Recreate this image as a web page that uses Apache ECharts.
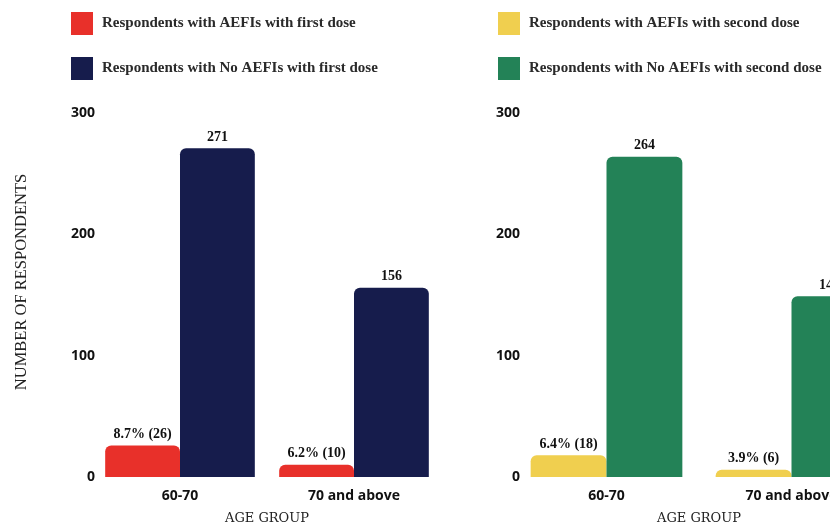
<!DOCTYPE html>
<html>
<head>
<meta charset="utf-8">
<script src="https://cdn.jsdelivr.net/npm/echarts@6/dist/echarts.min.js"></script>
<style>
  html, body { margin: 0; padding: 0; background: #ffffff; }
  #chart { width: 830px; height: 523px; }
</style>
</head>
<body>
<div id="chart"></div>
<script>
// Age groups shown on both panels
const ageGroups = ['60-70', '70 and above'];

// First dose
const firstAefi = [26, 10];
const firstAefiPct = ['8.7%', '6.2%'];
const firstNoAefi = [271, 156];

// Second dose
const secondAefi = [18, 6];
const secondAefiPct = ['6.4%', '3.9%'];
const secondNoAefi = [264, 149];

// Shared value-axis ticks
const yMin = 0;
const yMax = 300;
const yStep = 100;

const serif = '"DejaVu Serif", "Liberation Serif", serif';
const times = '"Liberation Serif", "Times New Roman", serif';
const sans = '"Open Sans", "Noto Sans", sans-serif';

const valueLabel = {
  show: true,
  position: 'top',
  distance: 4,
  color: '#111111',
  fontFamily: times,
  fontWeight: 'bold',
  fontSize: 14
};

function pctLabel(pcts) {
  return Object.assign({}, valueLabel, {
    formatter: p => pcts[p.dataIndex] + ' (' + p.value + ')'
  });
}

function xAxisFor(gridIndex) {
  return {
    type: 'category',
    gridIndex: gridIndex,
    data: ageGroups,
    name: 'AGE GROUP',
    nameLocation: 'middle',
    nameGap: 35,
    nameTextStyle: { fontFamily: serif, fontSize: 13, color: '#222222' },
    axisLine: { show: false },
    axisTick: { show: false },
    axisLabel: { margin: 12, fontFamily: sans, fontWeight: 'bold', fontSize: 14, color: '#111111' }
  };
}

function yAxisFor(gridIndex, margin) {
  return {
    type: 'value',
    gridIndex: gridIndex,
    min: yMin,
    max: yMax,
    interval: yStep,
    axisLine: { show: false },
    axisTick: { show: false },
    splitLine: { show: false },
    axisLabel: { margin: margin, fontFamily: sans, fontWeight: 'bold', fontSize: 14, color: '#111111' }
  };
}

const legendText = { fontFamily: times, fontWeight: 'bold', fontSize: 15, color: '#2a2a2a', padding: [5, 0, 0, 4] };

const option = {
  animation: false,
  backgroundColor: '#ffffff',
  legend: [
    {
      data: ['Respondents with AEFIs with first dose', 'Respondents with No AEFIs with first dose'],
      orient: 'vertical',
      left: 71, top: 12, padding: 0,
      itemWidth: 22, itemHeight: 23, itemGap: 22,
      icon: 'rect',
      textStyle: legendText
    },
    {
      data: ['Respondents with AEFIs with second dose', 'Respondents with No AEFIs with second dose'],
      orient: 'vertical',
      left: 498, top: 12, padding: 0,
      itemWidth: 22, itemHeight: 23, itemGap: 22,
      icon: 'rect',
      textStyle: legendText
    }
  ],
  grid: [
    { left: 93, top: 113, width: 348, height: 364, outerBoundsMode: 'none', containLabel: false },
    { left: 514, top: 113, width: 370, height: 364, outerBoundsMode: 'none', containLabel: false }
  ],
  xAxis: [xAxisFor(0), xAxisFor(1)],
  yAxis: [yAxisFor(0, -2), yAxisFor(1, -6)],
  graphic: [
    {
      type: 'text',
      x: 22,
      y: 282,
      rotation: Math.PI / 2,
      style: {
        text: 'NUMBER OF RESPONDENTS',
        font: '16.5px ' + '"Liberation Serif", serif',
        fill: '#222222',
        align: 'center',
        verticalAlign: 'middle'
      }
    }
  ],
  series: [
    {
      name: 'Respondents with AEFIs with first dose',
      type: 'bar', xAxisIndex: 0, yAxisIndex: 0,
      data: firstAefi,
      barGap: '0%', barCategoryGap: '14%',
      itemStyle: { color: '#E8302A', borderRadius: [6, 6, 0, 0] },
      label: pctLabel(firstAefiPct)
    },
    {
      name: 'Respondents with No AEFIs with first dose',
      type: 'bar', xAxisIndex: 0, yAxisIndex: 0,
      data: firstNoAefi,
      barGap: '0%', barCategoryGap: '14%',
      itemStyle: { color: '#161C4C', borderRadius: [6, 6, 0, 0] },
      label: valueLabel
    },
    {
      name: 'Respondents with AEFIs with second dose',
      type: 'bar', xAxisIndex: 1, yAxisIndex: 1,
      data: secondAefi,
      barGap: '0%', barCategoryGap: '18%',
      itemStyle: { color: '#F0CF4F', borderRadius: [6, 6, 0, 0] },
      label: pctLabel(secondAefiPct)
    },
    {
      name: 'Respondents with No AEFIs with second dose',
      type: 'bar', xAxisIndex: 1, yAxisIndex: 1,
      data: secondNoAefi,
      barGap: '0%', barCategoryGap: '18%',
      itemStyle: { color: '#238257', borderRadius: [6, 6, 0, 0] },
      label: valueLabel
    }
  ]
};

const chart = echarts.init(document.getElementById('chart'), null, { renderer: 'canvas' });
chart.setOption(option);
</script>
</body>
</html>
